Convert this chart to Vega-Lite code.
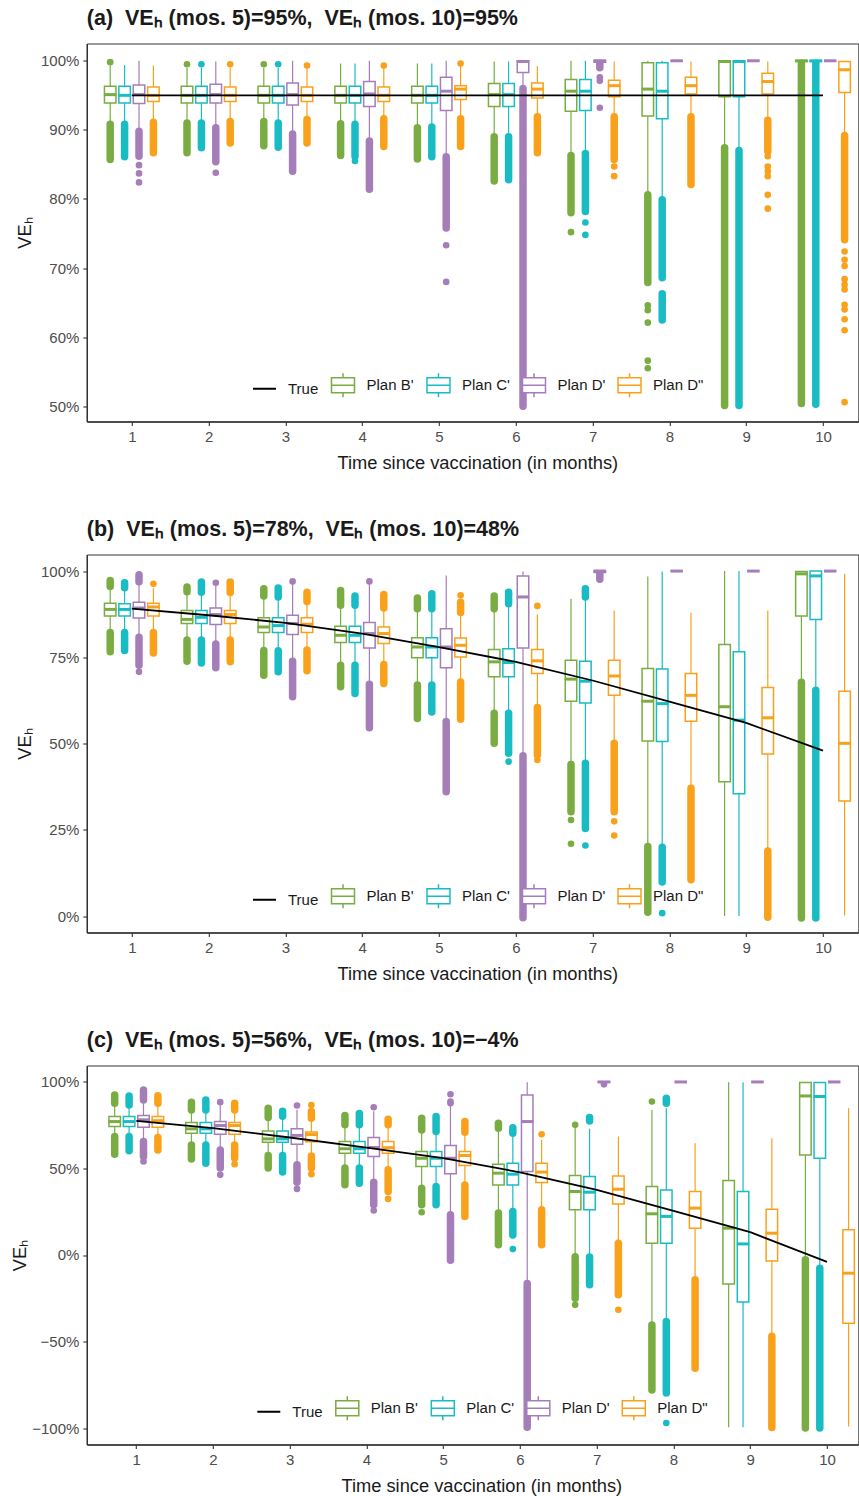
{
"$schema": "https://vega.github.io/schema/vega-lite/v6.json",
"background": "white",
"padding": {"left": 8.8, "top": 7.5, "right": 0, "bottom": 0},
"spacing": 46,
"config": {
 "font": "Liberation Sans",
 "view": {"stroke": "#333333", "strokeWidth": 1},
 "axis": {"grid": false, "domainColor": "#333333", "domainWidth": 1.4, "tickColor": "#333333", "tickWidth": 1.1, "tickSize": 4, "labelColor": "#4d4d4d", "labelFontSize": 15, "labelPadding": 4, "titleFontSize": 18.3, "titleFontWeight": "normal", "titleColor": "#1a1a1a"},
 "axisX": {"labelAngle": 0, "titlePadding": 10},
 "title": {"fontSize": 21.5, "fontWeight": "bold", "color": "#1a1a1a", "anchor": "start", "frame": "group", "offset": 14}
},
"resolve": {"scale": {"color": "independent", "x": "independent", "y": "independent"}, "legend": {"color": "independent"}},
"datasets": {
"truth": [
{"p":"a","m":1,"v":95},{"p":"a","m":2,"v":95},{"p":"a","m":3,"v":95},{"p":"a","m":4,"v":95},{"p":"a","m":5,"v":95},{"p":"a","m":6,"v":95},{"p":"a","m":7,"v":95},{"p":"a","m":8,"v":95},{"p":"a","m":9,"v":95},{"p":"a","m":10,"v":95},
{"p":"b","m":1,"v":89.1},{"p":"b","m":2,"v":87.2},{"p":"b","m":3,"v":85.0},{"p":"b","m":4,"v":81.9},{"p":"b","m":5,"v":78.0},{"p":"b","m":6,"v":73.7},{"p":"b","m":7,"v":68.3},{"p":"b","m":8,"v":62.2},{"p":"b","m":9,"v":56.0},{"p":"b","m":10,"v":48.0},
{"p":"c","m":1,"v":77.5},{"p":"c","m":2,"v":73.3},{"p":"c","m":3,"v":67.9},{"p":"c","m":4,"v":62.1},{"p":"c","m":5,"v":56.0},{"p":"c","m":6,"v":47.8},{"p":"c","m":7,"v":37.6},{"p":"c","m":8,"v":25.5},{"p":"c","m":9,"v":13.2},{"p":"c","m":10,"v":-4.0}
],
"boxes": [
{"p":"a","m":1,"g":"Plan B'","lo":91.0,"q1":93.9,"md":95.1,"q3":96.3,"hi":99.3},
{"p":"a","m":1,"g":"Plan C'","lo":91.0,"q1":93.9,"md":95.0,"q3":96.3,"hi":99.4},
{"p":"a","m":1,"g":"Plan D'","lo":90.0,"q1":93.8,"md":95.1,"q3":96.5,"hi":100},
{"p":"a","m":1,"g":"Plan D\"","lo":91.2,"q1":94.1,"md":95.0,"q3":96.2,"hi":99.3},
{"p":"a","m":2,"g":"Plan B'","lo":91.2,"q1":93.9,"md":95.0,"q3":96.3,"hi":99.0},
{"p":"a","m":2,"g":"Plan C'","lo":91.2,"q1":93.9,"md":95.0,"q3":96.3,"hi":99.0},
{"p":"a","m":2,"g":"Plan D'","lo":90.5,"q1":93.9,"md":95.1,"q3":96.6,"hi":99.9},
{"p":"a","m":2,"g":"Plan D\"","lo":91.4,"q1":94.1,"md":95.0,"q3":96.2,"hi":99.0},
{"p":"a","m":3,"g":"Plan B'","lo":91.4,"q1":93.9,"md":95.0,"q3":96.3,"hi":99.0},
{"p":"a","m":3,"g":"Plan C'","lo":91.2,"q1":93.9,"md":95.0,"q3":96.3,"hi":99.0},
{"p":"a","m":3,"g":"Plan D'","lo":89.6,"q1":93.6,"md":95.1,"q3":96.8,"hi":100},
{"p":"a","m":3,"g":"Plan D\"","lo":91.7,"q1":94.1,"md":95.0,"q3":96.2,"hi":98.9},
{"p":"a","m":4,"g":"Plan B'","lo":91.0,"q1":93.9,"md":95.0,"q3":96.3,"hi":99.6},
{"p":"a","m":4,"g":"Plan C'","lo":90.9,"q1":93.9,"md":95.0,"q3":96.3,"hi":99.6},
{"p":"a","m":4,"g":"Plan D'","lo":88.6,"q1":93.4,"md":95.2,"q3":97.0,"hi":100},
{"p":"a","m":4,"g":"Plan D\"","lo":91.7,"q1":94.1,"md":95.0,"q3":96.2,"hi":98.9},
{"p":"a","m":5,"g":"Plan B'","lo":90.5,"q1":93.9,"md":95.0,"q3":96.3,"hi":99.6},
{"p":"a","m":5,"g":"Plan C'","lo":90.6,"q1":93.9,"md":95.0,"q3":96.3,"hi":99.6},
{"p":"a","m":5,"g":"Plan D'","lo":86.3,"q1":92.8,"md":95.6,"q3":97.6,"hi":100},
{"p":"a","m":5,"g":"Plan D\"","lo":91.7,"q1":94.4,"md":95.9,"q3":96.4,"hi":99.2},
{"p":"a","m":6,"g":"Plan B'","lo":89.1,"q1":93.4,"md":95.1,"q3":96.7,"hi":99.9},
{"p":"a","m":6,"g":"Plan C'","lo":89.1,"q1":93.4,"md":95.1,"q3":96.7,"hi":99.9},
{"p":"a","m":6,"g":"Plan D'","lo":96.1,"q1":98.3,"md":99.9,"q3":100,"hi":100},
{"p":"a","m":6,"g":"Plan D\"","lo":92.0,"q1":94.6,"md":95.9,"q3":96.8,"hi":99.2},
{"p":"a","m":7,"g":"Plan B'","lo":86.5,"q1":92.7,"md":95.6,"q3":97.3,"hi":100},
{"p":"a","m":7,"g":"Plan C'","lo":86.8,"q1":92.8,"md":95.6,"q3":97.3,"hi":100},
{"p":"a","m":7,"g":"Plan D'","lo":99.7,"q1":99.8,"md":100,"q3":100,"hi":100},
{"p":"a","m":7,"g":"Plan D\"","lo":92.0,"q1":94.8,"md":96.4,"q3":97.2,"hi":99.9},
{"p":"a","m":8,"g":"Plan B'","lo":80.8,"q1":92.0,"md":95.9,"q3":99.7,"hi":100},
{"p":"a","m":8,"g":"Plan C'","lo":80.1,"q1":91.6,"md":95.6,"q3":99.7,"hi":100},
{"p":"a","m":8,"g":"Plan D'","lo":100,"q1":100,"md":100,"q3":100,"hi":100},
{"p":"a","m":8,"g":"Plan D\"","lo":92.0,"q1":95.2,"md":96.4,"q3":97.6,"hi":99.9},
{"p":"a","m":9,"g":"Plan B'","lo":87.6,"q1":94.8,"md":99.9,"q3":100,"hi":100},
{"p":"a","m":9,"g":"Plan C'","lo":87.1,"q1":94.8,"md":99.9,"q3":100,"hi":100},
{"p":"a","m":9,"g":"Plan D'","lo":100,"q1":100,"md":100,"q3":100,"hi":100},
{"p":"a","m":9,"g":"Plan D\"","lo":91.5,"q1":95.2,"md":97.0,"q3":98.2,"hi":99.9},
{"p":"a","m":10,"g":"Plan B'","lo":99.8,"q1":99.9,"md":100,"q3":100,"hi":100},
{"p":"a","m":10,"g":"Plan C'","lo":99.8,"q1":99.9,"md":100,"q3":100,"hi":100},
{"p":"a","m":10,"g":"Plan D'","lo":100,"q1":100,"md":100,"q3":100,"hi":100},
{"p":"a","m":10,"g":"Plan D\"","lo":89.3,"q1":95.4,"md":98.7,"q3":99.9,"hi":100},
{"p":"b","m":1,"g":"Plan B'","lo":82.4,"q1":87.0,"md":88.9,"q3":90.7,"hi":95.3},
{"p":"b","m":1,"g":"Plan C'","lo":82.4,"q1":87.0,"md":88.9,"q3":90.5,"hi":95.0},
{"p":"b","m":1,"g":"Plan D'","lo":80.9,"q1":86.4,"md":89.3,"q3":91.0,"hi":96.5},
{"p":"b","m":1,"g":"Plan D\"","lo":82.4,"q1":87.0,"md":89.6,"q3":90.7,"hi":95.0},
{"p":"b","m":2,"g":"Plan B'","lo":80.2,"q1":84.8,"md":86.0,"q3":88.6,"hi":93.8},
{"p":"b","m":2,"g":"Plan C'","lo":80.2,"q1":84.8,"md":86.6,"q3":88.6,"hi":93.7},
{"p":"b","m":2,"g":"Plan D'","lo":79.0,"q1":84.5,"md":87.4,"q3":89.3,"hi":96.0},
{"p":"b","m":2,"g":"Plan D\"","lo":80.2,"q1":84.8,"md":87.4,"q3":88.6,"hi":93.6},
{"p":"b","m":3,"g":"Plan B'","lo":77.1,"q1":82.2,"md":83.8,"q3":86.5,"hi":92.6},
{"p":"b","m":3,"g":"Plan C'","lo":77.0,"q1":82.2,"md":84.2,"q3":86.5,"hi":92.3},
{"p":"b","m":3,"g":"Plan D'","lo":74.0,"q1":81.6,"md":84.8,"q3":87.2,"hi":96.4},
{"p":"b","m":3,"g":"Plan D\"","lo":77.2,"q1":82.2,"md":84.6,"q3":86.5,"hi":91.0},
{"p":"b","m":4,"g":"Plan B'","lo":72.9,"q1":79.3,"md":81.4,"q3":84.0,"hi":89.9},
{"p":"b","m":4,"g":"Plan C'","lo":72.9,"q1":79.3,"md":81.4,"q3":84.0,"hi":89.9},
{"p":"b","m":4,"g":"Plan D'","lo":67.4,"q1":77.7,"md":81.9,"q3":85.1,"hi":96.4},
{"p":"b","m":4,"g":"Plan D\"","lo":73.1,"q1":79.0,"md":81.9,"q3":83.8,"hi":89.1},
{"p":"b","m":5,"g":"Plan B'","lo":67.2,"q1":74.9,"md":78.0,"q3":80.7,"hi":88.9},
{"p":"b","m":5,"g":"Plan C'","lo":67.2,"q1":74.9,"md":78.0,"q3":80.7,"hi":88.9},
{"p":"b","m":5,"g":"Plan D'","lo":56.6,"q1":72.0,"md":78.0,"q3":83.3,"hi":98.7},
{"p":"b","m":5,"g":"Plan D\"","lo":68.1,"q1":75.1,"md":78.5,"q3":80.6,"hi":87.8},
{"p":"b","m":6,"g":"Plan B'","lo":59.0,"q1":69.4,"md":73.7,"q3":77.3,"hi":88.9},
{"p":"b","m":6,"g":"Plan C'","lo":59.0,"q1":69.4,"md":73.5,"q3":77.5,"hi":90.3},
{"p":"b","m":6,"g":"Plan D'","lo":46.7,"q1":77.7,"md":92.5,"q3":98.6,"hi":99.9},
{"p":"b","m":6,"g":"Plan D\"","lo":60.7,"q1":70.3,"md":74.0,"q3":77.3,"hi":87.4},
{"p":"b","m":7,"g":"Plan B'","lo":44.3,"q1":62.3,"md":68.7,"q3":74.2,"hi":92.0},
{"p":"b","m":7,"g":"Plan C'","lo":44.6,"q1":61.8,"md":68.1,"q3":73.9,"hi":92.3},
{"p":"b","m":7,"g":"Plan D'","lo":99.4,"q1":99.6,"md":100,"q3":100,"hi":100},
{"p":"b","m":7,"g":"Plan D\"","lo":50.4,"q1":64.0,"md":69.6,"q3":74.2,"hi":88.6},
{"p":"b","m":8,"g":"Plan B'","lo":20.5,"q1":50.8,"md":62.3,"q3":71.8,"hi":98.4},
{"p":"b","m":8,"g":"Plan C'","lo":20.3,"q1":50.6,"md":61.6,"q3":71.6,"hi":99.9},
{"p":"b","m":8,"g":"Plan D'","lo":100,"q1":100,"md":100,"q3":100,"hi":100},
{"p":"b","m":8,"g":"Plan D\"","lo":37.4,"q1":56.5,"md":64.0,"q3":70.3,"hi":87.9},
{"p":"b","m":9,"g":"Plan B'","lo":0.1,"q1":39.0,"md":60.7,"q3":78.7,"hi":100},
{"p":"b","m":9,"g":"Plan C'","lo":0.1,"q1":35.5,"md":56.8,"q3":76.6,"hi":100},
{"p":"b","m":9,"g":"Plan D'","lo":100,"q1":100,"md":100,"q3":100,"hi":100},
{"p":"b","m":9,"g":"Plan D\"","lo":19.2,"q1":47.0,"md":57.5,"q3":66.3,"hi":88.6},
{"p":"b","m":10,"g":"Plan B'","lo":68.0,"q1":87.0,"md":99.2,"q3":99.9,"hi":100},
{"p":"b","m":10,"g":"Plan C'","lo":65.7,"q1":86.0,"md":98.6,"q3":100,"hi":100},
{"p":"b","m":10,"g":"Plan D'","lo":100,"q1":100,"md":100,"q3":100,"hi":100},
{"p":"b","m":10,"g":"Plan D\"","lo":0.2,"q1":33.4,"md":50.1,"q3":65.2,"hi":99.2},
{"p":"c","m":1,"g":"Plan B'","lo":68.8,"q1":74.2,"md":77.1,"q3":80.0,"hi":87.5},
{"p":"c","m":1,"g":"Plan C'","lo":68.8,"q1":74.2,"md":77.1,"q3":80.0,"hi":86.5},
{"p":"c","m":1,"g":"Plan D'","lo":65.9,"q1":73.8,"md":78.1,"q3":80.6,"hi":89.4},
{"p":"c","m":1,"g":"Plan D\"","lo":68.2,"q1":73.8,"md":77.6,"q3":80.0,"hi":87.5},
{"p":"c","m":2,"g":"Plan B'","lo":63.9,"q1":70.4,"md":72.9,"q3":76.6,"hi":83.6},
{"p":"c","m":2,"g":"Plan C'","lo":63.9,"q1":70.4,"md":72.9,"q3":76.6,"hi":83.6},
{"p":"c","m":2,"g":"Plan D'","lo":61.0,"q1":69.8,"md":74.8,"q3":77.1,"hi":87.0},
{"p":"c","m":2,"g":"Plan D\"","lo":63.9,"q1":69.8,"md":74.8,"q3":76.6,"hi":83.6},
{"p":"c","m":3,"g":"Plan B'","lo":57.8,"q1":65.2,"md":67.1,"q3":71.7,"hi":79.2},
{"p":"c","m":3,"g":"Plan C'","lo":57.8,"q1":65.2,"md":67.1,"q3":71.7,"hi":79.0},
{"p":"c","m":3,"g":"Plan D'","lo":52.4,"q1":64.0,"md":69.1,"q3":72.9,"hi":84.0},
{"p":"c","m":3,"g":"Plan D\"","lo":57.5,"q1":65.4,"md":69.6,"q3":71.1,"hi":78.8},
{"p":"c","m":4,"g":"Plan B'","lo":50.5,"q1":58.8,"md":61.4,"q3":65.6,"hi":75.0},
{"p":"c","m":4,"g":"Plan C'","lo":50.5,"q1":58.8,"md":61.4,"q3":65.6,"hi":75.0},
{"p":"c","m":4,"g":"Plan D'","lo":42.4,"q1":56.9,"md":62.1,"q3":67.9,"hi":83.0},
{"p":"c","m":4,"g":"Plan D\"","lo":49.6,"q1":58.8,"md":62.0,"q3":65.6,"hi":75.0},
{"p":"c","m":5,"g":"Plan B'","lo":39.0,"q1":51.2,"md":55.9,"q3":59.8,"hi":71.9},
{"p":"c","m":5,"g":"Plan C'","lo":40.0,"q1":51.2,"md":55.9,"q3":59.8,"hi":71.2},
{"p":"c","m":5,"g":"Plan D'","lo":23.5,"q1":46.9,"md":55.9,"q3":63.3,"hi":87.0},
{"p":"c","m":5,"g":"Plan D\"","lo":40.8,"q1":51.7,"md":57.5,"q3":59.8,"hi":70.7},
{"p":"c","m":6,"g":"Plan B'","lo":24.5,"q1":40.5,"md":47.3,"q3":52.5,"hi":73.0},
{"p":"c","m":6,"g":"Plan C'","lo":25.5,"q1":40.5,"md":46.7,"q3":53.0,"hi":70.2},
{"p":"c","m":6,"g":"Plan D'","lo":-16.0,"q1":48.3,"md":77.1,"q3":92.5,"hi":99.8},
{"p":"c","m":6,"g":"Plan D\"","lo":26.4,"q1":41.9,"md":47.9,"q3":53.0,"hi":66.5},
{"p":"c","m":7,"g":"Plan B'","lo":-0.5,"q1":26.1,"md":36.7,"q3":45.9,"hi":74.0},
{"p":"c","m":7,"g":"Plan C'","lo":-0.5,"q1":26.1,"md":36.3,"q3":45.4,"hi":73.0},
{"p":"c","m":7,"g":"Plan D'","lo":99.5,"q1":99.8,"md":100,"q3":100,"hi":100},
{"p":"c","m":7,"g":"Plan D\"","lo":7.2,"q1":29.5,"md":38.0,"q3":45.7,"hi":68.5},
{"p":"c","m":8,"g":"Plan B'","lo":-40.0,"q1":6.8,"md":23.8,"q3":39.6,"hi":83.8},
{"p":"c","m":8,"g":"Plan C'","lo":-38.0,"q1":6.8,"md":22.3,"q3":37.6,"hi":84.8},
{"p":"c","m":8,"g":"Plan D'","lo":100,"q1":100,"md":100,"q3":100,"hi":100},
{"p":"c","m":8,"g":"Plan D\"","lo":-14.0,"q1":15.5,"md":27.1,"q3":36.7,"hi":64.6},
{"p":"c","m":9,"g":"Plan B'","lo":-99.6,"q1":-16.7,"md":15.5,"q3":43.1,"hi":99.8},
{"p":"c","m":9,"g":"Plan C'","lo":-99.6,"q1":-27.2,"md":6.4,"q3":36.7,"hi":99.8},
{"p":"c","m":9,"g":"Plan D'","lo":100,"q1":100,"md":100,"q3":100,"hi":100},
{"p":"c","m":9,"g":"Plan D\"","lo":-46.5,"q1":-3.4,"md":12.6,"q3":26.5,"hi":67.5},
{"p":"c","m":10,"g":"Plan B'","lo":-2.5,"q1":57.8,"md":91.9,"q3":99.7,"hi":100},
{"p":"c","m":10,"g":"Plan C'","lo":-7.3,"q1":55.9,"md":91.6,"q3":99.7,"hi":100},
{"p":"c","m":10,"g":"Plan D'","lo":100,"q1":100,"md":100,"q3":100,"hi":100},
{"p":"c","m":10,"g":"Plan D\"","lo":-99.1,"q1":-39.4,"md":-10.5,"q3":14.6,"hi":84.8}
],
"streaks": [
{"p":"a","m":1,"g":"Plan B'","y":85.7,"y2":90.8},{"p":"a","m":1,"g":"Plan C'","y":86.1,"y2":90.8},{"p":"a","m":1,"g":"Plan D'","y":86.2,"y2":89.8},{"p":"a","m":1,"g":"Plan D\"","y":86.7,"y2":91.1},
{"p":"a","m":2,"g":"Plan B'","y":86.7,"y2":91.0},{"p":"a","m":2,"g":"Plan C'","y":87.4,"y2":91.0},{"p":"a","m":2,"g":"Plan D'","y":85.4,"y2":90.3},{"p":"a","m":2,"g":"Plan D\"","y":88.1,"y2":91.2},
{"p":"a","m":3,"g":"Plan B'","y":87.7,"y2":91.2},{"p":"a","m":3,"g":"Plan C'","y":87.5,"y2":91.0},{"p":"a","m":3,"g":"Plan D'","y":84.0,"y2":89.4},{"p":"a","m":3,"g":"Plan D\"","y":88.1,"y2":91.5},
{"p":"a","m":4,"g":"Plan B'","y":86.3,"y2":90.9},{"p":"a","m":4,"g":"Plan C'","y":86.2,"y2":90.8},{"p":"a","m":4,"g":"Plan D'","y":81.4,"y2":88.4},{"p":"a","m":4,"g":"Plan D\"","y":87.6,"y2":91.6},
{"p":"a","m":5,"g":"Plan B'","y":85.8,"y2":90.3},{"p":"a","m":5,"g":"Plan C'","y":86.1,"y2":90.4},{"p":"a","m":5,"g":"Plan D'","y":75.8,"y2":86.1},{"p":"a","m":5,"g":"Plan D\"","y":87.6,"y2":91.6},
{"p":"a","m":6,"g":"Plan B'","y":82.6,"y2":89.0},{"p":"a","m":6,"g":"Plan C'","y":82.8,"y2":89.0},{"p":"a","m":6,"g":"Plan D'","y":50.0,"y2":96.0},{"p":"a","m":6,"g":"Plan D\"","y":86.7,"y2":91.9},
{"p":"a","m":7,"g":"Plan B'","y":78.0,"y2":86.3},{"p":"a","m":7,"g":"Plan C'","y":78.2,"y2":86.6},{"p":"a","m":7,"g":"Plan D'","y":99.0,"y2":99.6},{"p":"a","m":7,"g":"Plan D\"","y":85.7,"y2":91.9},
{"p":"a","m":8,"g":"Plan B'","y":67.9,"y2":80.6},{"p":"a","m":8,"g":"Plan C'","y":68.6,"y2":79.9},{"p":"a","m":8,"g":"Plan C'","y":62.5,"y2":66.3},{"p":"a","m":8,"g":"Plan D\"","y":82.1,"y2":91.9},
{"p":"a","m":9,"g":"Plan B'","y":50.1,"y2":87.4},{"p":"a","m":9,"g":"Plan C'","y":50.1,"y2":87.0},{"p":"a","m":9,"g":"Plan D\"","y":86.9,"y2":91.4},
{"p":"a","m":10,"g":"Plan B'","y":50.4,"y2":99.6},{"p":"a","m":10,"g":"Plan C'","y":50.3,"y2":99.6},{"p":"a","m":10,"g":"Plan D\"","y":74.1,"y2":89.2},
{"p":"b","m":1,"g":"Plan B'","y":95.5,"y2":97.3},{"p":"b","m":1,"g":"Plan B'","y":76.6,"y2":82.2},{"p":"b","m":1,"g":"Plan C'","y":95.2,"y2":96.6},{"p":"b","m":1,"g":"Plan C'","y":77.0,"y2":82.2},{"p":"b","m":1,"g":"Plan D'","y":96.9,"y2":98.9},{"p":"b","m":1,"g":"Plan D'","y":72.7,"y2":80.8},{"p":"b","m":1,"g":"Plan D\"","y":76.3,"y2":82.2},
{"p":"b","m":2,"g":"Plan B'","y":94.0,"y2":95.4},{"p":"b","m":2,"g":"Plan B'","y":73.9,"y2":80.0},{"p":"b","m":2,"g":"Plan C'","y":93.9,"y2":96.8},{"p":"b","m":2,"g":"Plan C'","y":73.4,"y2":80.0},{"p":"b","m":2,"g":"Plan D'","y":72.0,"y2":78.9},{"p":"b","m":2,"g":"Plan D\"","y":93.8,"y2":96.8},{"p":"b","m":2,"g":"Plan D\"","y":73.7,"y2":80.0},
{"p":"b","m":3,"g":"Plan B'","y":92.8,"y2":94.9},{"p":"b","m":3,"g":"Plan B'","y":69.8,"y2":77.0},{"p":"b","m":3,"g":"Plan C'","y":92.5,"y2":95.1},{"p":"b","m":3,"g":"Plan C'","y":70.8,"y2":76.9},{"p":"b","m":3,"g":"Plan D'","y":63.6,"y2":73.9},{"p":"b","m":3,"g":"Plan D\"","y":91.2,"y2":93.9},{"p":"b","m":3,"g":"Plan D\"","y":71.1,"y2":77.1},
{"p":"b","m":4,"g":"Plan B'","y":90.1,"y2":94.4},{"p":"b","m":4,"g":"Plan B'","y":66.5,"y2":72.7},{"p":"b","m":4,"g":"Plan C'","y":90.1,"y2":92.8},{"p":"b","m":4,"g":"Plan C'","y":64.5,"y2":72.7},{"p":"b","m":4,"g":"Plan D'","y":54.6,"y2":67.2},{"p":"b","m":4,"g":"Plan D\"","y":89.3,"y2":93.2},{"p":"b","m":4,"g":"Plan D\"","y":67.4,"y2":72.9},
{"p":"b","m":5,"g":"Plan B'","y":89.1,"y2":92.2},{"p":"b","m":5,"g":"Plan B'","y":57.3,"y2":67.0},{"p":"b","m":5,"g":"Plan C'","y":89.1,"y2":93.4},{"p":"b","m":5,"g":"Plan C'","y":59.2,"y2":67.0},{"p":"b","m":5,"g":"Plan D'","y":36.1,"y2":56.4},{"p":"b","m":5,"g":"Plan D\"","y":88.0,"y2":91.0},{"p":"b","m":5,"g":"Plan D\"","y":57.1,"y2":67.9},
{"p":"b","m":6,"g":"Plan B'","y":89.1,"y2":92.8},{"p":"b","m":6,"g":"Plan B'","y":50.1,"y2":58.8},{"p":"b","m":6,"g":"Plan C'","y":90.5,"y2":93.9},{"p":"b","m":6,"g":"Plan C'","y":47.2,"y2":58.8},{"p":"b","m":6,"g":"Plan D'","y":-0.4,"y2":46.5},{"p":"b","m":6,"g":"Plan D\"","y":46.7,"y2":60.5},
{"p":"b","m":7,"g":"Plan B'","y":30.3,"y2":44.0},{"p":"b","m":7,"g":"Plan C'","y":92.5,"y2":94.9},{"p":"b","m":7,"g":"Plan C'","y":25.4,"y2":44.3},{"p":"b","m":7,"g":"Plan D'","y":97.6,"y2":99.2},{"p":"b","m":7,"g":"Plan D\"","y":30.3,"y2":50.1},
{"p":"b","m":8,"g":"Plan B'","y":1.2,"y2":20.2},{"p":"b","m":8,"g":"Plan C'","y":9.9,"y2":20.0},{"p":"b","m":8,"g":"Plan D\"","y":10.6,"y2":37.1},
{"p":"b","m":9,"g":"Plan D\"","y":-0.3,"y2":18.9},
{"p":"b","m":10,"g":"Plan B'","y":-0.5,"y2":67.8},{"p":"b","m":10,"g":"Plan C'","y":-0.5,"y2":65.5},
{"p":"c","m":1,"g":"Plan B'","y":87.7,"y2":92.5},{"p":"c","m":1,"g":"Plan B'","y":58.2,"y2":68.5},{"p":"c","m":1,"g":"Plan C'","y":86.7,"y2":91.9},{"p":"c","m":1,"g":"Plan C'","y":60.2,"y2":68.5},{"p":"c","m":1,"g":"Plan D'","y":89.6,"y2":95.4},{"p":"c","m":1,"g":"Plan D'","y":56.9,"y2":65.6},{"p":"c","m":1,"g":"Plan D\"","y":87.7,"y2":92.0},{"p":"c","m":1,"g":"Plan D\"","y":60.7,"y2":67.9},
{"p":"c","m":2,"g":"Plan B'","y":83.8,"y2":88.3},{"p":"c","m":2,"g":"Plan B'","y":55.4,"y2":63.6},{"p":"c","m":2,"g":"Plan C'","y":83.8,"y2":89.6},{"p":"c","m":2,"g":"Plan C'","y":53.0,"y2":63.6},{"p":"c","m":2,"g":"Plan D'","y":50.2,"y2":60.7},{"p":"c","m":2,"g":"Plan D\"","y":83.8,"y2":87.7},{"p":"c","m":2,"g":"Plan D\"","y":56.0,"y2":63.6},
{"p":"c","m":3,"g":"Plan B'","y":79.4,"y2":84.8},{"p":"c","m":3,"g":"Plan B'","y":50.2,"y2":57.5},{"p":"c","m":3,"g":"Plan C'","y":80.2,"y2":83.1},{"p":"c","m":3,"g":"Plan C'","y":47.9,"y2":57.5},{"p":"c","m":3,"g":"Plan D'","y":42.1,"y2":52.1},{"p":"c","m":3,"g":"Plan D\"","y":79.0,"y2":82.9},{"p":"c","m":3,"g":"Plan D\"","y":50.2,"y2":57.2},
{"p":"c","m":4,"g":"Plan B'","y":75.2,"y2":80.6},{"p":"c","m":4,"g":"Plan B'","y":40.6,"y2":50.2},{"p":"c","m":4,"g":"Plan C'","y":75.2,"y2":81.8},{"p":"c","m":4,"g":"Plan C'","y":41.5,"y2":50.2},{"p":"c","m":4,"g":"Plan D'","y":29.0,"y2":42.1},{"p":"c","m":4,"g":"Plan D\"","y":75.2,"y2":78.5},{"p":"c","m":4,"g":"Plan D\"","y":36.7,"y2":49.3},
{"p":"c","m":5,"g":"Plan B'","y":72.3,"y2":79.0},{"p":"c","m":5,"g":"Plan B'","y":29.0,"y2":38.6},{"p":"c","m":5,"g":"Plan C'","y":71.4,"y2":80.0},{"p":"c","m":5,"g":"Plan C'","y":29.0,"y2":39.6},{"p":"c","m":5,"g":"Plan D'","y":-3.0,"y2":23.2},{"p":"c","m":5,"g":"Plan D\"","y":70.9,"y2":77.1},{"p":"c","m":5,"g":"Plan D\"","y":22.3,"y2":40.5},
{"p":"c","m":6,"g":"Plan B'","y":73.3,"y2":76.1},{"p":"c","m":6,"g":"Plan B'","y":5.9,"y2":24.2},{"p":"c","m":6,"g":"Plan C'","y":70.4,"y2":73.6},{"p":"c","m":6,"g":"Plan C'","y":11.6,"y2":25.2},{"p":"c","m":6,"g":"Plan D'","y":-99.5,"y2":-16.4},{"p":"c","m":6,"g":"Plan D\"","y":5.9,"y2":26.1},
{"p":"c","m":7,"g":"Plan B'","y":-25.0,"y2":-1.0},{"p":"c","m":7,"g":"Plan C'","y":77.5,"y2":79.4},{"p":"c","m":7,"g":"Plan C'","y":-17.2,"y2":-1.2},{"p":"c","m":7,"g":"Plan D\"","y":-23.0,"y2":6.8},
{"p":"c","m":8,"g":"Plan B'","y":-78.0,"y2":-40.5},{"p":"c","m":8,"g":"Plan C'","y":87.7,"y2":90.6},{"p":"c","m":8,"g":"Plan C'","y":-79.8,"y2":-38.4},{"p":"c","m":8,"g":"Plan D\"","y":-65.4,"y2":-14.3},
{"p":"c","m":9,"g":"Plan D\"","y":-99.7,"y2":-47.0},
{"p":"c","m":10,"g":"Plan B'","y":-100,"y2":-2.8},{"p":"c","m":10,"g":"Plan C'","y":-100,"y2":-7.6}
],
"dots": [
{"p":"a","m":1,"g":"Plan B'","y":99.8},{"p":"a","m":1,"g":"Plan D'","y":84.9},{"p":"a","m":1,"g":"Plan D'","y":83.7},{"p":"a","m":1,"g":"Plan D'","y":82.4},
{"p":"a","m":2,"g":"Plan B'","y":99.5},{"p":"a","m":2,"g":"Plan C'","y":99.5},{"p":"a","m":2,"g":"Plan D'","y":83.8},{"p":"a","m":2,"g":"Plan D\"","y":99.5},
{"p":"a","m":3,"g":"Plan B'","y":99.5},{"p":"a","m":3,"g":"Plan C'","y":99.5},{"p":"a","m":3,"g":"Plan D\"","y":99.3},
{"p":"a","m":4,"g":"Plan C'","y":85.5},{"p":"a","m":4,"g":"Plan D\"","y":99.3},
{"p":"a","m":5,"g":"Plan D'","y":73.3},{"p":"a","m":5,"g":"Plan D'","y":68.0},{"p":"a","m":5,"g":"Plan D\"","y":99.6},
{"p":"a","m":7,"g":"Plan B'","y":75.2},{"p":"a","m":7,"g":"Plan C'","y":76.6},{"p":"a","m":7,"g":"Plan C'","y":74.8},{"p":"a","m":7,"g":"Plan D'","y":97.6},{"p":"a","m":7,"g":"Plan D'","y":97.1},{"p":"a","m":7,"g":"Plan D'","y":93.2},{"p":"a","m":7,"g":"Plan D\"","y":84.7},{"p":"a","m":7,"g":"Plan D\"","y":83.3},
{"p":"a","m":8,"g":"Plan B'","y":64.6},{"p":"a","m":8,"g":"Plan B'","y":63.9},{"p":"a","m":8,"g":"Plan B'","y":62.1},{"p":"a","m":8,"g":"Plan B'","y":56.6},{"p":"a","m":8,"g":"Plan B'","y":55.5},
{"p":"a","m":9,"g":"Plan D\"","y":86.2},{"p":"a","m":9,"g":"Plan D\"","y":84.7},{"p":"a","m":9,"g":"Plan D\"","y":84.0},{"p":"a","m":9,"g":"Plan D\"","y":83.3},{"p":"a","m":9,"g":"Plan D\"","y":80.6},{"p":"a","m":9,"g":"Plan D\"","y":78.6},
{"p":"a","m":10,"g":"Plan D\"","y":72.4},{"p":"a","m":10,"g":"Plan D\"","y":71.2},{"p":"a","m":10,"g":"Plan D\"","y":70.3},{"p":"a","m":10,"g":"Plan D\"","y":68.4},{"p":"a","m":10,"g":"Plan D\"","y":67.6},{"p":"a","m":10,"g":"Plan D\"","y":66.9},{"p":"a","m":10,"g":"Plan D\"","y":64.7},{"p":"a","m":10,"g":"Plan D\"","y":64.0},{"p":"a","m":10,"g":"Plan D\"","y":62.6},{"p":"a","m":10,"g":"Plan D\"","y":61.0},{"p":"a","m":10,"g":"Plan D\"","y":50.6},
{"p":"b","m":1,"g":"Plan D\"","y":96.3},{"p":"b","m":1,"g":"Plan D'","y":70.8},
{"p":"b","m":2,"g":"Plan D'","y":96.6},{"p":"b","m":3,"g":"Plan D'","y":97.0},{"p":"b","m":4,"g":"Plan D'","y":97.0},
{"p":"b","m":5,"g":"Plan D\"","y":93.0},
{"p":"b","m":6,"g":"Plan C'","y":44.8},{"p":"b","m":6,"g":"Plan D\"","y":89.9},{"p":"b","m":6,"g":"Plan D\"","y":45.3},
{"p":"b","m":7,"g":"Plan B'","y":27.9},{"p":"b","m":7,"g":"Plan B'","y":21.0},{"p":"b","m":7,"g":"Plan C'","y":20.5},{"p":"b","m":7,"g":"Plan D\"","y":27.5},{"p":"b","m":7,"g":"Plan D\"","y":23.4},
{"p":"b","m":8,"g":"Plan C'","y":0.9},
{"p":"c","m":1,"g":"Plan D'","y":54.0},
{"p":"c","m":2,"g":"Plan D'","y":88.3},{"p":"c","m":2,"g":"Plan D'","y":46.3},{"p":"c","m":2,"g":"Plan D\"","y":52.5},
{"p":"c","m":3,"g":"Plan D'","y":86.4},{"p":"c","m":3,"g":"Plan D'","y":38.2},{"p":"c","m":3,"g":"Plan D\"","y":86.7},{"p":"c","m":3,"g":"Plan D\"","y":46.7},
{"p":"c","m":4,"g":"Plan D'","y":85.4},{"p":"c","m":4,"g":"Plan D'","y":25.7},{"p":"c","m":4,"g":"Plan D\"","y":32.4},
{"p":"c","m":5,"g":"Plan B'","y":24.7},{"p":"c","m":5,"g":"Plan D'","y":87.7},{"p":"c","m":5,"g":"Plan D'","y":88.6},{"p":"c","m":5,"g":"Plan D'","y":92.9},
{"p":"c","m":6,"g":"Plan C'","y":3.4},{"p":"c","m":6,"g":"Plan D\"","y":69.8},
{"p":"c","m":7,"g":"Plan B'","y":75.2},{"p":"c","m":7,"g":"Plan B'","y":-28.8},{"p":"c","m":7,"g":"Plan D'","y":98.6},{"p":"c","m":7,"g":"Plan D\"","y":-31.7},
{"p":"c","m":8,"g":"Plan B'","y":88.7},{"p":"c","m":8,"g":"Plan C'","y":-97.1}
]
},
"vconcat": [
{
 "width": 771.5, "height": 378,
 "title": {"text": "(a)\u00a0\u00a0VEₕ (mos. 5)=95%,\u00a0\u00a0VEₕ (mos. 10)=95%"},
 "layer": [
  {"data": {"name": "boxes"}, "transform": [{"filter": "datum.p === 'a'"}],
   "mark": {"type": "rule", "strokeWidth": 1.2},
   "encoding": {
    "x": {"field": "m", "type": "ordinal", "scale": {"type": "point", "domain": [1,2,3,4,5,6,7,8,9,10], "padding": 0.5228, "align": 0.5604}, "axis": {"title": "Time since vaccination (in months)", "titleX": 390.5}},
    "xOffset": {"field": "g", "type": "nominal", "scale": {"type": "point", "domain": ["Plan B'","Plan C'","Plan D'","Plan D\""], "range": [-21.6, 21.6], "padding": 0}},
    "y": {"field": "lo", "type": "quantitative", "scale": {"domain": [47.8, 102.5], "nice": false, "zero": false}, "axis": {"title": "VEₕ", "values": [50,60,70,80,90,100], "labelExpr": "(datum.value < 0 ? '−' : '') + abs(datum.value) + '%'", "titlePadding": 6}},
    "y2": {"field": "hi"},
    "color": {"field": "g", "type": "nominal", "scale": {"domain": ["True","Plan B'","Plan C'","Plan D'","Plan D\""], "range": ["#000000","#79AD41","#1ABCC4","#A57DB9","#F9A11B"]},
     "legend": {"orient": "none", "legendX": 170.2, "legendY": 334, "direction": "horizontal", "title": null, "labelFontSize": 15, "labelColor": "#1a1a1a", "labelOffset": 16, "columnPadding": 9.5, "symbolSize": 529, "padding": 0,
      "encode": {"symbols": {"update": {"shape": {"signal": "datum.value === 'True' ? 'stroke' : 'M-1,-0.65L1,-0.65L1,0.65L-1,0.65Z M-1,0L1,0 M0,-0.65L0,-1.05 M0,0.65L0,1.05'"}, "stroke": {"signal": "['#000000','#79AD41','#1ABCC4','#A57DB9','#F9A11B'][datum.index]"}, "fill": {"value": "#ffffff"}, "strokeWidth": {"signal": "datum.index === 0 ? 2 : 1.5"}, "size": {"value": 529}, "opacity": {"value": 1}}}}}}
   }},
  {"data": {"name": "streaks"}, "transform": [{"filter": "datum.p === 'a'"}],
   "mark": {"type": "rule", "strokeWidth": 7.5, "strokeCap": "round"},
   "encoding": {
    "x": {"field": "m", "type": "ordinal", "scale": {"type": "point", "domain": [1,2,3,4,5,6,7,8,9,10], "padding": 0.5228, "align": 0.5604}},
    "xOffset": {"field": "g", "type": "nominal", "scale": {"type": "point", "domain": ["Plan B'","Plan C'","Plan D'","Plan D\""], "range": [-21.6, 21.6], "padding": 0}},
    "y": {"field": "y", "type": "quantitative", "scale": {"domain": [47.8, 102.5], "nice": false, "zero": false}},
    "y2": {"field": "y2"},
    "color": {"field": "g", "type": "nominal", "scale": {"domain": ["True","Plan B'","Plan C'","Plan D'","Plan D\""], "range": ["#000000","#79AD41","#1ABCC4","#A57DB9","#F9A11B"]}}
   }},
  {"data": {"name": "dots"}, "transform": [{"filter": "datum.p === 'a'"}],
   "mark": {"type": "circle", "size": 44, "opacity": 1},
   "encoding": {
    "x": {"field": "m", "type": "ordinal", "scale": {"type": "point", "domain": [1,2,3,4,5,6,7,8,9,10], "padding": 0.5228, "align": 0.5604}},
    "xOffset": {"field": "g", "type": "nominal", "scale": {"type": "point", "domain": ["Plan B'","Plan C'","Plan D'","Plan D\""], "range": [-21.6, 21.6], "padding": 0}},
    "y": {"field": "y", "type": "quantitative", "scale": {"domain": [47.8, 102.5], "nice": false, "zero": false}},
    "fill": {"field": "g", "type": "nominal", "scale": {"domain": ["Plan B'","Plan C'","Plan D'","Plan D\""], "range": ["#79AD41","#1ABCC4","#A57DB9","#F9A11B"]}, "legend": null}
   }},
  {"data": {"name": "boxes"}, "transform": [{"filter": "datum.p === 'a'"}],
   "mark": {"type": "bar", "size": 11.5, "fill": "#ffffff", "strokeWidth": 1.5},
   "encoding": {
    "x": {"field": "m", "type": "ordinal", "scale": {"type": "point", "domain": [1,2,3,4,5,6,7,8,9,10], "padding": 0.5228, "align": 0.5604}},
    "xOffset": {"field": "g", "type": "nominal", "scale": {"type": "point", "domain": ["Plan B'","Plan C'","Plan D'","Plan D\""], "range": [-21.6, 21.6], "padding": 0}},
    "y": {"field": "q1", "type": "quantitative", "scale": {"domain": [47.8, 102.5], "nice": false, "zero": false}},
    "y2": {"field": "q3"},
    "stroke": {"field": "g", "type": "nominal", "scale": {"domain": ["Plan B'","Plan C'","Plan D'","Plan D\""], "range": ["#79AD41","#1ABCC4","#A57DB9","#F9A11B"]}, "legend": null}
   }},
  {"data": {"name": "boxes"}, "transform": [{"filter": "datum.p === 'a'"}],
   "mark": {"type": "tick", "orient": "horizontal", "size": 12.5, "thickness": 3, "opacity": 1},
   "encoding": {
    "x": {"field": "m", "type": "ordinal", "scale": {"type": "point", "domain": [1,2,3,4,5,6,7,8,9,10], "padding": 0.5228, "align": 0.5604}},
    "xOffset": {"field": "g", "type": "nominal", "scale": {"type": "point", "domain": ["Plan B'","Plan C'","Plan D'","Plan D\""], "range": [-21.6, 21.6], "padding": 0}},
    "y": {"field": "md", "type": "quantitative", "scale": {"domain": [47.8, 102.5], "nice": false, "zero": false}},
    "fill": {"field": "g", "type": "nominal", "scale": {"domain": ["Plan B'","Plan C'","Plan D'","Plan D\""], "range": ["#79AD41","#1ABCC4","#A57DB9","#F9A11B"]}, "legend": null}
   }},
  {"data": {"name": "truth"}, "transform": [{"filter": "datum.p === 'a'"}],
   "mark": {"type": "line", "strokeWidth": 1.8},
   "encoding": {
    "x": {"field": "m", "type": "ordinal", "scale": {"type": "point", "domain": [1,2,3,4,5,6,7,8,9,10], "padding": 0.5228, "align": 0.5604}},
    "y": {"field": "v", "type": "quantitative", "scale": {"domain": [47.8, 102.5], "nice": false, "zero": false}},
    "color": {"datum": "True", "type": "nominal", "scale": {"domain": ["True","Plan B'","Plan C'","Plan D'","Plan D\""], "range": ["#000000","#79AD41","#1ABCC4","#A57DB9","#F9A11B"]}}
   }}
 ]
},
{
 "width": 771.5, "height": 378,
 "title": {"text": "(b)\u00a0\u00a0VEₕ (mos. 5)=78%,\u00a0\u00a0VEₕ (mos. 10)=48%"},
 "layer": [
  {"data": {"name": "boxes"}, "transform": [{"filter": "datum.p === 'b'"}],
   "mark": {"type": "rule", "strokeWidth": 1.2},
   "encoding": {
    "x": {"field": "m", "type": "ordinal", "scale": {"type": "point", "domain": [1,2,3,4,5,6,7,8,9,10], "padding": 0.5228, "align": 0.5604}, "axis": {"title": "Time since vaccination (in months)", "titleX": 390.5}},
    "xOffset": {"field": "g", "type": "nominal", "scale": {"type": "point", "domain": ["Plan B'","Plan C'","Plan D'","Plan D\""], "range": [-21.6, 21.6], "padding": 0}},
    "y": {"field": "lo", "type": "quantitative", "scale": {"domain": [-4.7, 104.8], "nice": false, "zero": false}, "axis": {"title": "VEₕ", "values": [0,25,50,75,100], "labelExpr": "(datum.value < 0 ? '−' : '') + abs(datum.value) + '%'", "titlePadding": 6}},
    "y2": {"field": "hi"},
    "color": {"field": "g", "type": "nominal", "scale": {"domain": ["True","Plan B'","Plan C'","Plan D'","Plan D\""], "range": ["#000000","#79AD41","#1ABCC4","#A57DB9","#F9A11B"]},
     "legend": {"orient": "none", "legendX": 170.2, "legendY": 334, "direction": "horizontal", "title": null, "labelFontSize": 15, "labelColor": "#1a1a1a", "labelOffset": 16, "columnPadding": 9.5, "symbolSize": 529, "padding": 0,
      "encode": {"symbols": {"update": {"shape": {"signal": "datum.value === 'True' ? 'stroke' : 'M-1,-0.65L1,-0.65L1,0.65L-1,0.65Z M-1,0L1,0 M0,-0.65L0,-1.05 M0,0.65L0,1.05'"}, "stroke": {"signal": "['#000000','#79AD41','#1ABCC4','#A57DB9','#F9A11B'][datum.index]"}, "fill": {"value": "#ffffff"}, "strokeWidth": {"signal": "datum.index === 0 ? 2 : 1.5"}, "size": {"value": 529}, "opacity": {"value": 1}}}}}}
   }},
  {"data": {"name": "streaks"}, "transform": [{"filter": "datum.p === 'b'"}],
   "mark": {"type": "rule", "strokeWidth": 7.5, "strokeCap": "round"},
   "encoding": {
    "x": {"field": "m", "type": "ordinal", "scale": {"type": "point", "domain": [1,2,3,4,5,6,7,8,9,10], "padding": 0.5228, "align": 0.5604}},
    "xOffset": {"field": "g", "type": "nominal", "scale": {"type": "point", "domain": ["Plan B'","Plan C'","Plan D'","Plan D\""], "range": [-21.6, 21.6], "padding": 0}},
    "y": {"field": "y", "type": "quantitative", "scale": {"domain": [-4.7, 104.8], "nice": false, "zero": false}},
    "y2": {"field": "y2"},
    "color": {"field": "g", "type": "nominal", "scale": {"domain": ["True","Plan B'","Plan C'","Plan D'","Plan D\""], "range": ["#000000","#79AD41","#1ABCC4","#A57DB9","#F9A11B"]}}
   }},
  {"data": {"name": "dots"}, "transform": [{"filter": "datum.p === 'b'"}],
   "mark": {"type": "circle", "size": 44, "opacity": 1},
   "encoding": {
    "x": {"field": "m", "type": "ordinal", "scale": {"type": "point", "domain": [1,2,3,4,5,6,7,8,9,10], "padding": 0.5228, "align": 0.5604}},
    "xOffset": {"field": "g", "type": "nominal", "scale": {"type": "point", "domain": ["Plan B'","Plan C'","Plan D'","Plan D\""], "range": [-21.6, 21.6], "padding": 0}},
    "y": {"field": "y", "type": "quantitative", "scale": {"domain": [-4.7, 104.8], "nice": false, "zero": false}},
    "fill": {"field": "g", "type": "nominal", "scale": {"domain": ["Plan B'","Plan C'","Plan D'","Plan D\""], "range": ["#79AD41","#1ABCC4","#A57DB9","#F9A11B"]}, "legend": null}
   }},
  {"data": {"name": "boxes"}, "transform": [{"filter": "datum.p === 'b'"}],
   "mark": {"type": "bar", "size": 11.5, "fill": "#ffffff", "strokeWidth": 1.5},
   "encoding": {
    "x": {"field": "m", "type": "ordinal", "scale": {"type": "point", "domain": [1,2,3,4,5,6,7,8,9,10], "padding": 0.5228, "align": 0.5604}},
    "xOffset": {"field": "g", "type": "nominal", "scale": {"type": "point", "domain": ["Plan B'","Plan C'","Plan D'","Plan D\""], "range": [-21.6, 21.6], "padding": 0}},
    "y": {"field": "q1", "type": "quantitative", "scale": {"domain": [-4.7, 104.8], "nice": false, "zero": false}},
    "y2": {"field": "q3"},
    "stroke": {"field": "g", "type": "nominal", "scale": {"domain": ["Plan B'","Plan C'","Plan D'","Plan D\""], "range": ["#79AD41","#1ABCC4","#A57DB9","#F9A11B"]}, "legend": null}
   }},
  {"data": {"name": "boxes"}, "transform": [{"filter": "datum.p === 'b'"}],
   "mark": {"type": "tick", "orient": "horizontal", "size": 12.5, "thickness": 3, "opacity": 1},
   "encoding": {
    "x": {"field": "m", "type": "ordinal", "scale": {"type": "point", "domain": [1,2,3,4,5,6,7,8,9,10], "padding": 0.5228, "align": 0.5604}},
    "xOffset": {"field": "g", "type": "nominal", "scale": {"type": "point", "domain": ["Plan B'","Plan C'","Plan D'","Plan D\""], "range": [-21.6, 21.6], "padding": 0}},
    "y": {"field": "md", "type": "quantitative", "scale": {"domain": [-4.7, 104.8], "nice": false, "zero": false}},
    "fill": {"field": "g", "type": "nominal", "scale": {"domain": ["Plan B'","Plan C'","Plan D'","Plan D\""], "range": ["#79AD41","#1ABCC4","#A57DB9","#F9A11B"]}, "legend": null}
   }},
  {"data": {"name": "truth"}, "transform": [{"filter": "datum.p === 'b'"}],
   "mark": {"type": "line", "strokeWidth": 1.8},
   "encoding": {
    "x": {"field": "m", "type": "ordinal", "scale": {"type": "point", "domain": [1,2,3,4,5,6,7,8,9,10], "padding": 0.5228, "align": 0.5604}},
    "y": {"field": "v", "type": "quantitative", "scale": {"domain": [-4.7, 104.8], "nice": false, "zero": false}},
    "color": {"datum": "True", "type": "nominal", "scale": {"domain": ["True","Plan B'","Plan C'","Plan D'","Plan D\""], "range": ["#000000","#79AD41","#1ABCC4","#A57DB9","#F9A11B"]}}
   }}
 ]
},
{
 "width": 771.5, "height": 379,
 "title": {"text": "(c)\u00a0\u00a0VEₕ (mos. 5)=56%,\u00a0\u00a0VEₕ (mos. 10)=−4%"},
 "layer": [
  {"data": {"name": "boxes"}, "transform": [{"filter": "datum.p === 'c'"}],
   "mark": {"type": "rule", "strokeWidth": 1.2},
   "encoding": {
    "x": {"field": "m", "type": "ordinal", "scale": {"type": "point", "domain": [1,2,3,4,5,6,7,8,9,10], "padding": 0.5264, "align": 0.6126}, "axis": {"title": "Time since vaccination (in months)", "titleX": 394.5}},
    "xOffset": {"field": "g", "type": "nominal", "scale": {"type": "point", "domain": ["Plan B'","Plan C'","Plan D'","Plan D\""], "range": [-21.6, 21.6], "padding": 0}},
    "y": {"field": "lo", "type": "quantitative", "scale": {"domain": [-109.5, 109.5], "nice": false, "zero": false}, "axis": {"title": "VEₕ", "values": [-100,-50,0,50,100], "labelExpr": "(datum.value < 0 ? '−' : '') + abs(datum.value) + '%'", "titlePadding": 2.5}},
    "y2": {"field": "hi"},
    "color": {"field": "g", "type": "nominal", "scale": {"domain": ["True","Plan B'","Plan C'","Plan D'","Plan D\""], "range": ["#000000","#79AD41","#1ABCC4","#A57DB9","#F9A11B"]},
     "legend": {"orient": "none", "legendX": 174.5, "legendY": 335, "direction": "horizontal", "title": null, "labelFontSize": 15, "labelColor": "#1a1a1a", "labelOffset": 16, "columnPadding": 9.5, "symbolSize": 529, "padding": 0,
      "encode": {"symbols": {"update": {"shape": {"signal": "datum.value === 'True' ? 'stroke' : 'M-1,-0.65L1,-0.65L1,0.65L-1,0.65Z M-1,0L1,0 M0,-0.65L0,-1.05 M0,0.65L0,1.05'"}, "stroke": {"signal": "['#000000','#79AD41','#1ABCC4','#A57DB9','#F9A11B'][datum.index]"}, "fill": {"value": "#ffffff"}, "strokeWidth": {"signal": "datum.index === 0 ? 2 : 1.5"}, "size": {"value": 529}, "opacity": {"value": 1}}}}}}
   }},
  {"data": {"name": "streaks"}, "transform": [{"filter": "datum.p === 'c'"}],
   "mark": {"type": "rule", "strokeWidth": 7.5, "strokeCap": "round"},
   "encoding": {
    "x": {"field": "m", "type": "ordinal", "scale": {"type": "point", "domain": [1,2,3,4,5,6,7,8,9,10], "padding": 0.5264, "align": 0.6126}},
    "xOffset": {"field": "g", "type": "nominal", "scale": {"type": "point", "domain": ["Plan B'","Plan C'","Plan D'","Plan D\""], "range": [-21.6, 21.6], "padding": 0}},
    "y": {"field": "y", "type": "quantitative", "scale": {"domain": [-109.5, 109.5], "nice": false, "zero": false}},
    "y2": {"field": "y2"},
    "color": {"field": "g", "type": "nominal", "scale": {"domain": ["True","Plan B'","Plan C'","Plan D'","Plan D\""], "range": ["#000000","#79AD41","#1ABCC4","#A57DB9","#F9A11B"]}}
   }},
  {"data": {"name": "dots"}, "transform": [{"filter": "datum.p === 'c'"}],
   "mark": {"type": "circle", "size": 44, "opacity": 1},
   "encoding": {
    "x": {"field": "m", "type": "ordinal", "scale": {"type": "point", "domain": [1,2,3,4,5,6,7,8,9,10], "padding": 0.5264, "align": 0.6126}},
    "xOffset": {"field": "g", "type": "nominal", "scale": {"type": "point", "domain": ["Plan B'","Plan C'","Plan D'","Plan D\""], "range": [-21.6, 21.6], "padding": 0}},
    "y": {"field": "y", "type": "quantitative", "scale": {"domain": [-109.5, 109.5], "nice": false, "zero": false}},
    "fill": {"field": "g", "type": "nominal", "scale": {"domain": ["Plan B'","Plan C'","Plan D'","Plan D\""], "range": ["#79AD41","#1ABCC4","#A57DB9","#F9A11B"]}, "legend": null}
   }},
  {"data": {"name": "boxes"}, "transform": [{"filter": "datum.p === 'c'"}],
   "mark": {"type": "bar", "size": 11.5, "fill": "#ffffff", "strokeWidth": 1.5},
   "encoding": {
    "x": {"field": "m", "type": "ordinal", "scale": {"type": "point", "domain": [1,2,3,4,5,6,7,8,9,10], "padding": 0.5264, "align": 0.6126}},
    "xOffset": {"field": "g", "type": "nominal", "scale": {"type": "point", "domain": ["Plan B'","Plan C'","Plan D'","Plan D\""], "range": [-21.6, 21.6], "padding": 0}},
    "y": {"field": "q1", "type": "quantitative", "scale": {"domain": [-109.5, 109.5], "nice": false, "zero": false}},
    "y2": {"field": "q3"},
    "stroke": {"field": "g", "type": "nominal", "scale": {"domain": ["Plan B'","Plan C'","Plan D'","Plan D\""], "range": ["#79AD41","#1ABCC4","#A57DB9","#F9A11B"]}, "legend": null}
   }},
  {"data": {"name": "boxes"}, "transform": [{"filter": "datum.p === 'c'"}],
   "mark": {"type": "tick", "orient": "horizontal", "size": 12.5, "thickness": 3, "opacity": 1},
   "encoding": {
    "x": {"field": "m", "type": "ordinal", "scale": {"type": "point", "domain": [1,2,3,4,5,6,7,8,9,10], "padding": 0.5264, "align": 0.6126}},
    "xOffset": {"field": "g", "type": "nominal", "scale": {"type": "point", "domain": ["Plan B'","Plan C'","Plan D'","Plan D\""], "range": [-21.6, 21.6], "padding": 0}},
    "y": {"field": "md", "type": "quantitative", "scale": {"domain": [-109.5, 109.5], "nice": false, "zero": false}},
    "fill": {"field": "g", "type": "nominal", "scale": {"domain": ["Plan B'","Plan C'","Plan D'","Plan D\""], "range": ["#79AD41","#1ABCC4","#A57DB9","#F9A11B"]}, "legend": null}
   }},
  {"data": {"name": "truth"}, "transform": [{"filter": "datum.p === 'c'"}],
   "mark": {"type": "line", "strokeWidth": 1.8},
   "encoding": {
    "x": {"field": "m", "type": "ordinal", "scale": {"type": "point", "domain": [1,2,3,4,5,6,7,8,9,10], "padding": 0.5264, "align": 0.6126}},
    "y": {"field": "v", "type": "quantitative", "scale": {"domain": [-109.5, 109.5], "nice": false, "zero": false}},
    "color": {"datum": "True", "type": "nominal", "scale": {"domain": ["True","Plan B'","Plan C'","Plan D'","Plan D\""], "range": ["#000000","#79AD41","#1ABCC4","#A57DB9","#F9A11B"]}}
   }}
 ]
}
]
}
